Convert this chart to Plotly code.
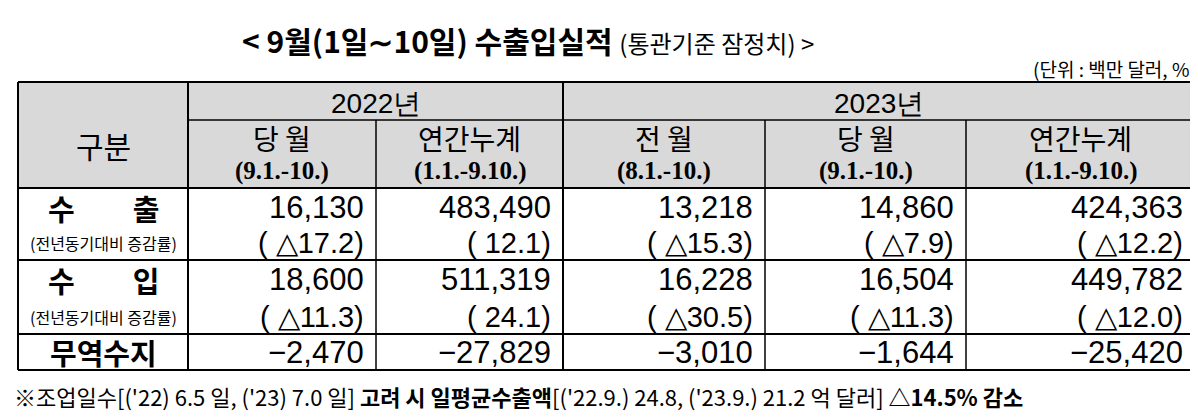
import plotly.graph_objects as go

title = "< 9월(1일∼10일) 수출입실적"
title_sub = "(통관기준 잠정치) >"
unit = "(단위 : 백만 달러, %)"
years = ["2022년", "2023년"]
sub_heads = ["당 월", "연간누계", "전 월", "당 월", "연간누계"]
sub_dates = ["(9.1.-10.)", "(1.1.-9.10.)", "(8.1.-10.)", "(9.1.-10.)", "(1.1.-9.10.)"]
exports = [16130, 483490, 13218, 14860, 424363]
export_rate = ["△17.2", "12.1", "△15.3", "△7.9", "△12.2"]
imports = [18600, 511319, 16228, 16504, 449782]
import_rate = ["△11.3", "24.1", "△30.5", "△11.3", "△12.0"]
balance = [-2470, -27829, -3010, -1644, -25420]
footnote = ("※조업일수[('22) 6.5 일, ('23) 7.0 일] <b>고려 시 일평균수출액</b>"
            "[('22.9.) 24.8, ('23.9.) 21.2 억 달러] <b>△14.5% 감소</b>")

xs = [10, 180, 368, 555, 757, 958, 1187]
y_top, y_h1, y_h2, y_ex, y_im, y_bot = 74, 112, 180, 252, 326, 362

KR = "Noto Sans CJK KR"
NUM = "Liberation Sans, sans-serif"
SER = "Liberation Serif, serif"

shapes = []
ann = []

def line(x0, y0, x1, y1, w=1.5):
    shapes.append(dict(type="line", x0=x0, y0=y0, x1=x1, y1=y1,
                       line=dict(color="black", width=w), layer="above"))

def text(x, y, s, size, font=KR, anchor="center", color="black"):
    ann.append(dict(x=x, y=y, text=s, showarrow=False, xanchor=anchor,
                    yanchor="middle", font=dict(size=size, family=font, color=color)))

shapes.append(dict(type="rect", x0=xs[0], x1=xs[-1], y0=y_top, y1=y_h2,
                   fillcolor="#d9d9d9", line=dict(width=0), layer="below"))
for y in [y_top, y_h2, y_ex, y_im, y_bot]:
    line(xs[0], y, xs[-1], y, 2)
line(xs[1], y_h1, xs[-1], y_h1)
line(xs[0], y_top, xs[0], y_bot, 2)
line(xs[-1], y_top, xs[-1], y_bot, 2)
line(xs[1], y_top, xs[1], y_bot, 2)
line(xs[3], y_top, xs[3], y_bot, 2)
for i in [2, 4, 5]:
    line(xs[i], y_h1, xs[i], y_bot)

text((xs[1] + xs[3]) / 2, (y_top + y_h1) / 2 + 2, years[0], 28, NUM)
text((xs[3] + xs[6]) / 2, (y_top + y_h1) / 2 + 2, years[1], 28, NUM)
text((xs[0] + xs[1]) / 2, (y_top + y_h2) / 2 + 10, "구분", 30)
for i in range(5):
    cx = (xs[i + 1] + xs[i + 2]) / 2
    text(cx, y_h1 + 18, sub_heads[i], 28)
    text(cx, y_h1 + 51, "<b>" + sub_dates[i] + "</b>", 25, SER)

def fmt(v):
    s = f"{abs(v):,}"
    return ("−" if v < 0 else "") + s

for (vals, rates, y0, y1, lab) in [(exports, export_rate, y_h2, y_ex, "수　　출"),
                                   (imports, import_rate, y_ex, y_im, "수　　입")]:
    text((xs[0] + xs[1]) / 2, y0 + 20, "<b>" + lab + "</b>", 29)
    text((xs[0] + xs[1]) / 2, y1 - 17, "(전년동기대비 증감률)", 16)
    for i in range(5):
        rx = xs[i + 2] - 10
        text(rx, y0 + 19, fmt(vals[i]), 31, NUM, "right")
        text(rx, y1 - 17, "( " + rates[i] + ")", 29, NUM, "right")
text((xs[0] + xs[1]) / 2, (y_im + y_bot) / 2, "<b>무역수지</b>", 29)
for i in range(5):
    text(xs[i + 2] - 10, (y_im + y_bot) / 2, fmt(balance[i]), 31, NUM, "right")

text(520, 32, "<b>" + title + "</b> <span style='font-size:24px'>" + title_sub + "</span>", 30)
text(1190, 60, unit, 19, KR, "right")
text(4, 388, footnote, 22, KR, "left")

fig = go.Figure()
fig.update_layout(
    width=1198, height=418, margin=dict(l=0, r=0, t=0, b=0),
    paper_bgcolor="white", plot_bgcolor="white",
    xaxis=dict(range=[0, 1198], visible=False, fixedrange=True),
    yaxis=dict(range=[418, 0], visible=False, fixedrange=True),
    shapes=shapes, annotations=ann, showlegend=False,
)
fig.write_html("out.html", config={"displayModeBar": False})
